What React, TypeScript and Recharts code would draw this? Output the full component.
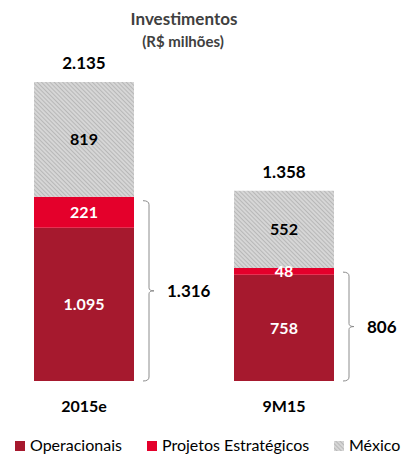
import { BarChart, Bar, XAxis, YAxis, LabelList } from 'recharts';

// Valores (R$ milhões)
const categories = ['2015e', '9M15'];
const operacionais = [1095, 758];
const projetos = [221, 48];
const mexico = [819, 552];

const seriesNames = ['Operacionais', 'Projetos Estratégicos', 'México'];

const data = categories.map((name, i) => ({
  name,
  operacionais: operacionais[i],
  projetos: projetos[i],
  mexico: mexico[i],
}));

const FONT = 'Lato, "Open Sans", sans-serif';
const DARK_RED = '#A6192E';
const RED = '#E4002B';

// formato pt-BR: 2135 -> 2.135
const fmt = (v: number) => String(v).replace(/\B(?=(\d{3})+(?!\d))/g, '.');

const Hatch = ({ id }: { id: string }) => (
  <defs>
    <pattern id={id} width="3" height="3" patternUnits="userSpaceOnUse" patternTransform="rotate(-45)">
      <rect width="3" height="3" fill="#d6d6d6" />
      <line x1="0" y1="0" x2="0" y2="3" stroke="#ababab" strokeWidth="1.4" />
    </pattern>
  </defs>
);

const CategoryTick = (props: any) => {
  const { x, y, payload } = props;
  return (
    <text x={x} y={y + 23} textAnchor="middle" fontFamily={FONT} fontWeight="bold" fontSize={16} fill="#000">
      {payload.value}
    </text>
  );
};

// total acima da pilha
const TotalLabel = (props: any) => {
  const vb = props.viewBox ?? props;
  const i = props.index;
  const total = operacionais[i] + projetos[i] + mexico[i];
  return (
    <text x={vb.x + vb.width / 2} y={vb.y - 13} textAnchor="middle" fontFamily={FONT} fontWeight="bold" fontSize={17} fill="#000">
      {fmt(total)}
    </text>
  );
};

// chave ao lado de Operacionais + Projetos
const Bracket = (props: any) => {
  const vb = props.viewBox ?? props;
  const i = props.index;
  const op = operacionais[i];
  const sum = op + projetos[i];
  const bottom = vb.y + vb.height;
  const top = bottom - (vb.height * sum) / op + 4;
  const bx = vb.x + vb.width + 15;
  const mid = (top + bottom) / 2;
  return (
    <g>
      <path
        d={`M${bx - 6},${top} Q${bx},${top} ${bx},${top + 4} L${bx},${mid - 3} Q${bx},${mid} ${bx + 5},${mid} Q${bx},${mid} ${bx},${mid + 3} L${bx},${bottom - 4} Q${bx},${bottom} ${bx - 6},${bottom}`}
        stroke="#8c8c8c"
        fill="none"
        strokeWidth={1}
      />
      <text x={bx + 18} y={mid} dominantBaseline="central" fontFamily={FONT} fontWeight="bold" fontSize={17} fill="#000">
        {fmt(sum)}
      </text>
    </g>
  );
};

export default function App() {
  const legendColors = [DARK_RED, RED, 'url(#hatchLegend)'];
  const legendX = [15, 147, 334];

  return (
    <div style={{ position: 'absolute', left: 0, top: 0, width: 401, height: 455, overflow: 'hidden', background: '#fff' }}>
      <svg width={401} height={455} style={{ position: 'absolute', left: 0, top: 0 }}>
        <Hatch id="hatchLegend" />
        <text x={184} y={25} textAnchor="middle" fontFamily={FONT} fontWeight="bold" fontSize={17} fill="#404040">
          Investimentos
        </text>
        <text x={183} y={47} textAnchor="middle" fontFamily={FONT} fontWeight="bold" fontSize={15} fill="#404040">
          (R$ milhões)
        </text>
        {seriesNames.map((n, i) => (
          <g key={n}>
            <rect x={legendX[i]} y={441} width={10} height={10} fill={legendColors[i]} />
            <text x={legendX[i] + 15} y={451} fontFamily={FONT} fontSize={16} fill="#000">
              {n}
            </text>
          </g>
        ))}
      </svg>
      <div style={{ position: 'absolute', left: -16, top: 0 }}>
        <BarChart width={417} height={455} data={data} margin={{ top: 82, right: 17, bottom: 44, left: 0 }}>
          <Hatch id="hatchBar" />
          <XAxis dataKey="name" axisLine={false} tickLine={false} height={30} tick={<CategoryTick />} interval={0} />
          <YAxis hide domain={[0, 'dataMax']} />
          <Bar dataKey="operacionais" stackId="a" fill={DARK_RED} barSize={100} isAnimationActive={false}>
            <LabelList dataKey="operacionais" position="center" formatter={(v: any) => fmt(Number(v))} fill="#fff" fontWeight="bold" fontSize={16} fontFamily={FONT} />
            <LabelList dataKey="operacionais" content={<Bracket />} />
          </Bar>
          <Bar dataKey="projetos" stackId="a" fill={RED} barSize={100} isAnimationActive={false}>
            <LabelList dataKey="projetos" position="center" fill="#fff" fontWeight="bold" fontSize={16} fontFamily={FONT} />
          </Bar>
          <Bar dataKey="mexico" stackId="a" fill="url(#hatchBar)" barSize={100} isAnimationActive={false}>
            <LabelList dataKey="mexico" position="center" fill="#000" fontWeight="bold" fontSize={16} fontFamily={FONT} />
            <LabelList dataKey="mexico" content={<TotalLabel />} />
          </Bar>
        </BarChart>
      </div>
    </div>
  );
}
